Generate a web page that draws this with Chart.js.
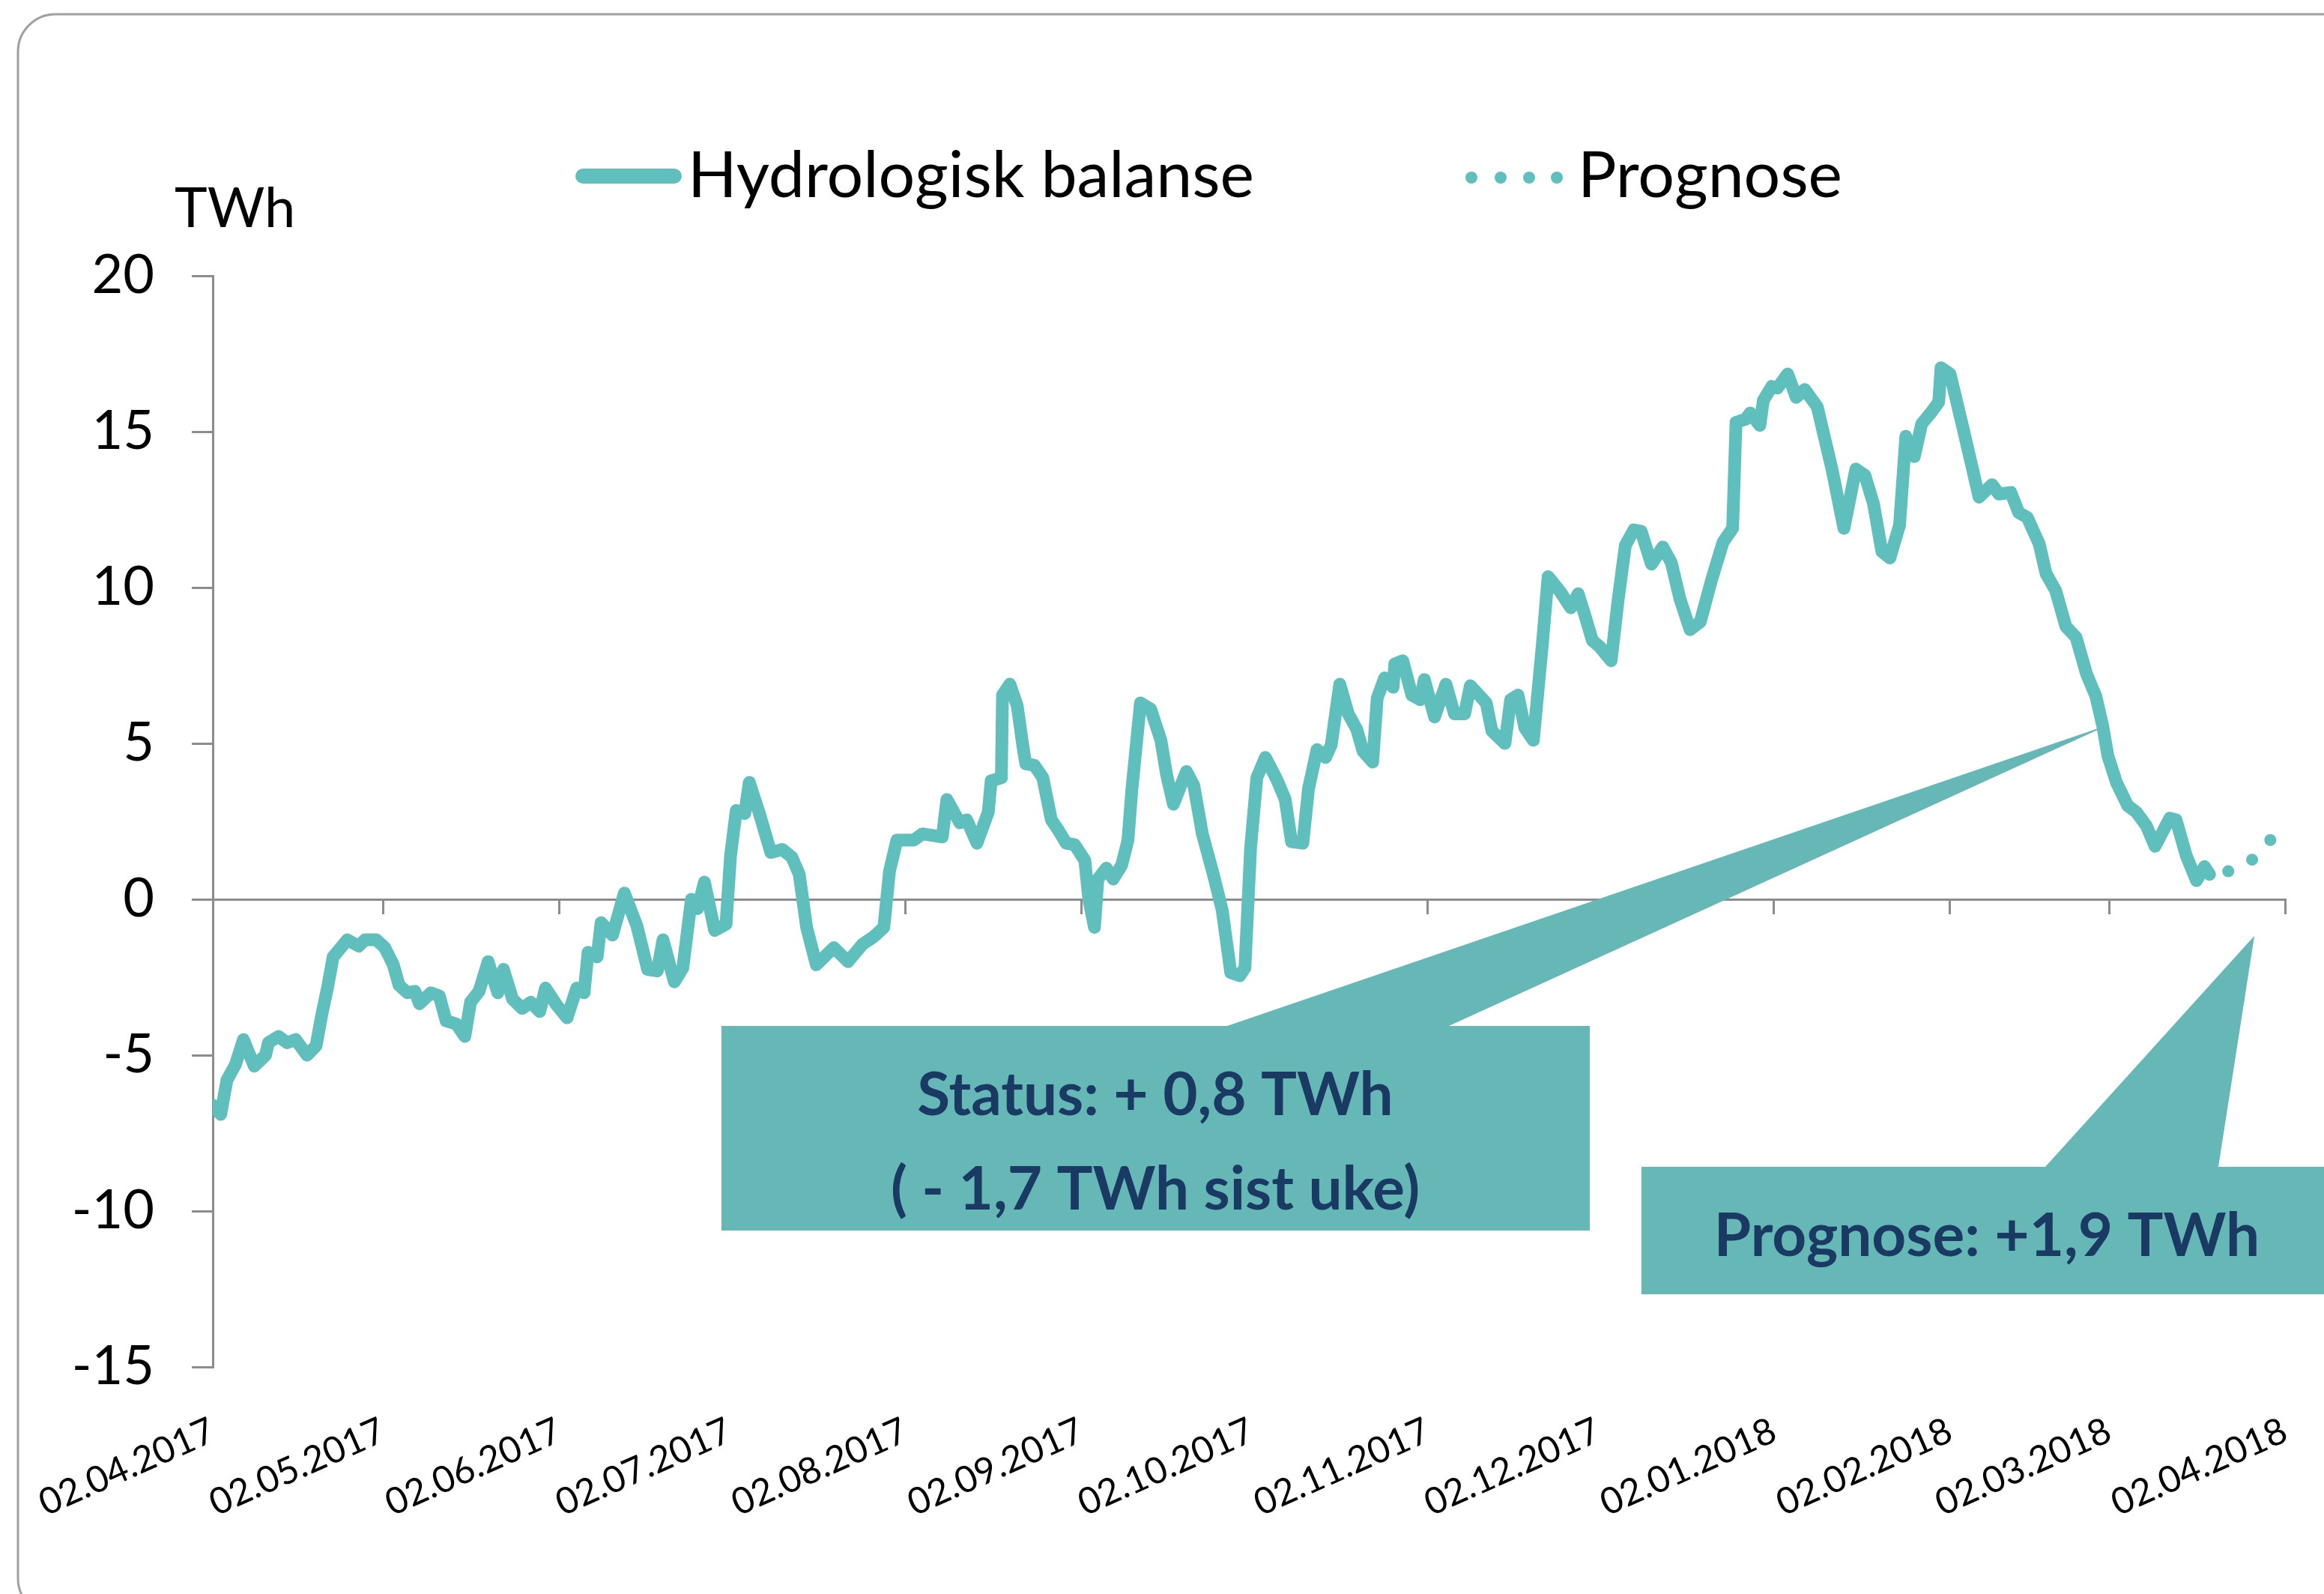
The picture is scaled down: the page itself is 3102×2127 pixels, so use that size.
<!DOCTYPE html>
<html>
<head>
<meta charset="utf-8">
<title>Hydrologisk balanse</title>
<script src="https://cdn.jsdelivr.net/npm/chart.js@4.4.1/dist/chart.umd.min.js"></script>
<style>
  html, body { margin: 0; padding: 0; background: #fff; }
  canvas { display: block; }
</style>
</head>
<body>
<canvas id="chart" width="3102" height="2127"></canvas>
<script>
// Days after 02.04.2017 and balance in TWh
const balanceDays = [
  0, 1.4, 2.5, 4.0, 5.4, 7.3, 9.3, 9.8, 11.6, 13.1, 14.6, 16.6, 18.2, 19.2, 20.2, 21.2,
  23.7, 25.7, 26.8, 28.8, 30.3, 31.8, 32.8, 34.3, 35.6, 36.4, 38.4, 39.9, 41.1, 42.9,
  44.4, 45.4, 46.9, 48.5, 50.2, 51.2, 52.8, 54.5, 56.0, 57.6, 58.6, 60.6, 62.4, 64.1,
  65.4, 66.1, 67.7, 68.4, 70.4, 72.5, 74.7, 76.6, 78.3, 79.3, 81.3, 82.8, 84.3, 85.4,
  86.6, 88.4, 90.4, 91.2, 92.2, 93.7, 94.5, 96.2, 98.3, 100.3, 102.0, 103.3, 104.6,
  106.3, 109.4, 111.9, 114.4, 116.4, 118.2, 119.2, 120.5, 123.5, 125.0, 128.5, 129.3,
  131.6, 132.8, 134.6, 136.6, 137.1, 138.9, 139.1, 140.4, 141.7, 142.7, 143.2, 144.7,
  146.2, 147.7, 149.0, 150.3, 151.8, 153.6, 154.3, 155.3, 155.9, 157.4, 158.6, 160.1,
  161.2, 161.9, 163.4, 165.2, 167.0, 168.0, 169.2, 171.5, 172.8, 174.3, 176.3, 177.8,
  179.3, 180.9, 181.8, 182.8, 183.9, 185.4, 187.4, 188.9, 190.0, 192.0, 193.0, 194.5,
  196.0, 197.0, 198.5, 200.0, 201.5, 202.6, 204.3, 205.1, 206.4, 207.9, 208.2, 209.6,
  211.2, 212.7, 213.4, 215.2, 217.2, 218.7, 220.5, 221.5, 224.3, 225.3, 227.6, 228.6,
  229.9, 231.1, 232.6, 234.2, 235.2, 237.4, 239.2, 240.5, 241.7, 243.0, 244.3, 246.3,
  247.5, 248.8, 250.3, 251.6, 253.4, 255.4, 256.9, 258.4, 260.2, 262.0, 264.0, 266.0,
  267.7, 268.3, 270.0, 270.8, 272.5, 273.1, 274.6, 275.6, 277.4, 278.9, 280.4, 282.6,
  285.2, 287.3, 289.4, 291.0, 292.5, 294.0, 295.4, 297.1, 298.2, 299.7, 301.0, 302.6,
  304.0, 304.4, 306.0, 308.1, 309.9, 311.1, 313.4, 314.6, 316.7, 318.1, 319.6, 321.7,
  322.9, 324.6, 326.4, 328.2, 330.0, 331.7, 332.9, 333.8, 335.3, 337.3, 338.8, 340.6,
  342.1, 344.7, 345.8, 347.6, 349.4, 350.8, 351.7
];
const balanceValues = [
  -6.6, -6.9, -5.8, -5.3, -4.5, -5.35, -5.0, -4.6, -4.4, -4.6, -4.5, -5.0, -4.7, -3.7, -2.85, -1.85,
  -1.3, -1.5, -1.3, -1.3, -1.55, -2.1, -2.75, -3.0, -2.95, -3.35, -3.0, -3.1, -3.9, -4.0,
  -4.4, -3.3, -2.95, -2.0, -3.0, -2.25, -3.2, -3.5, -3.3, -3.6, -2.85, -3.4, -3.8, -2.85,
  -3.0, -1.7, -1.85, -0.75, -1.15, 0.2, -0.85, -2.25, -2.3, -1.3, -2.65, -2.2, 0.0, -0.3,
  0.55, -1.0, -0.8, 1.4, 2.85, 2.75, 3.75, 2.8, 1.5, 1.6, 1.35, 0.8, -0.9,
  -2.1, -1.55, -2.0, -1.45, -1.2, -0.9, 0.9, 1.9, 1.9, 2.1, 2.0, 3.2,
  2.45, 2.55, 1.8, 2.8, 3.8, 3.9, 6.55, 6.9, 6.2, 4.9, 4.35, 4.3,
  3.9, 2.55, 2.2, 1.8, 1.75, 1.25, 0.0, -0.9, 0.65, 1.0, 0.65, 1.1,
  1.9, 3.55, 6.3, 6.1, 5.1, 4.0, 3.05, 4.1, 3.65, 2.1, 0.75, -0.35,
  -2.35, -2.45, -2.2, 1.65, 3.9, 4.55, 3.85, 3.2, 1.85, 1.8, 3.55, 4.8,
  4.55, 4.95, 6.9, 5.95, 5.45, 4.75, 4.4, 6.45, 7.1, 6.8, 7.55, 7.65,
  6.55, 6.4, 7.05, 5.85, 6.9, 5.95, 5.95, 6.85, 6.3, 5.4, 5.0, 6.4,
  6.55, 5.5, 5.1, 8.2, 10.35, 9.85, 9.35, 9.8, 9.1, 8.3, 8.1, 7.65,
  9.55, 11.35, 11.85, 11.8, 10.75, 11.3, 10.8, 9.65, 8.65, 8.9, 10.25, 11.45,
  11.9, 15.3, 15.4, 15.6, 15.2, 16.0, 16.45, 16.4, 16.85, 16.1, 16.35, 15.8,
  13.8, 11.9, 13.8, 13.6, 12.7, 11.15, 10.95, 12.0, 14.85, 14.2, 15.25, 15.6,
  15.95, 17.05, 16.85, 15.25, 13.85, 12.9, 13.3, 13.0, 13.05, 12.4, 12.25, 11.4,
  10.45, 9.9, 8.75, 8.4, 7.25, 6.5, 5.55, 4.6, 3.75, 3.0, 2.8, 2.35,
  1.7, 2.6, 2.55, 1.4, 0.6, 1.05, 0.8
];
const forecastDays = [355, 359.2, 362.4];
const forecastValues = [0.9, 1.27, 1.9];

const monthDays = [0, 30, 61, 91, 122, 153, 183, 214, 244, 275, 306, 334, 365];
const monthLabels = [
  '02.04.2017', '02.05.2017', '02.06.2017', '02.07.2017', '02.08.2017', '02.09.2017',
  '02.10.2017', '02.11.2017', '02.12.2017', '02.01.2018', '02.02.2018', '02.03.2018', '02.04.2018'
];
const seriesNames = ['Hydrologisk balanse', 'Prognose'];
const unitLabel = 'TWh';
const statusLines = ['Status: + 0,8 TWh', '( - 1,7 TWh sist uke)'];
const forecastLine = 'Prognose: +1,9 TWh';

const LINE = '#5fbfbc';
const BOX = '#66b8b7';
const NAVY = '#1b3a63';
const AXIS = '#8c8c8c';

Chart.defaults.font.family = 'Lato';
Chart.defaults.color = '#000';

// Month ticks for both x axes
function monthTicks(scale) {
  scale.ticks = monthDays.map(d => ({ value: d }));
}

// Keep the rotated labels from pulling the plot area in
function fixedXFit(height) {
  return s => {
    s.height = height;
    s.paddingLeft = 0;
    s.paddingRight = 0;
  };
}

// Frame, unit label and custom legend
const decorPlugin = {
  id: 'decor',
  beforeDraw(chart) {
    const ctx = chart.ctx;
    ctx.save();
    ctx.fillStyle = '#fff';
    ctx.fillRect(0, 0, chart.width, chart.height);
    ctx.strokeStyle = '#a0a0a0';
    ctx.lineWidth = 3;
    ctx.beginPath();
    ctx.roundRect(24, 19, chart.width + 60, chart.height + 10, 50);
    ctx.stroke();
    ctx.restore();
  },
  afterDraw(chart) {
    const ctx = chart.ctx;
    const area = chart.chartArea;
    ctx.save();
    ctx.fillStyle = '#000';
    ctx.textBaseline = 'alphabetic';
    ctx.font = '74px Lato';
    ctx.fillText(unitLabel, area.left - 51, 303);

    // legend: solid line sample
    const solid = chart.data.datasets[0];
    ctx.strokeStyle = solid.borderColor;
    ctx.lineWidth = 20;
    ctx.lineCap = 'round';
    ctx.beginPath();
    ctx.moveTo(778, 235);
    ctx.lineTo(900, 235);
    ctx.stroke();
    ctx.font = '86px Lato';
    ctx.fillText(seriesNames[0], 918, 263);

    // legend: dotted sample
    ctx.fillStyle = chart.data.datasets[1].pointBackgroundColor;
    [1964, 2003, 2041, 2078].forEach(cx => {
      ctx.beginPath();
      ctx.arc(cx, 237, 8, 0, Math.PI * 2);
      ctx.fill();
    });
    ctx.fillStyle = '#000';
    ctx.fillText(seriesNames[1], 2106, 263);
    ctx.restore();
  }
};

// The two text boxes with their pointers
const calloutPlugin = {
  id: 'callouts',
  afterDatasetsDraw(chart) {
    const { ctx, scales: { x, y } } = chart;
    ctx.save();
    ctx.fillStyle = BOX;

    ctx.beginPath();
    ctx.moveTo(1638, 1369);
    ctx.lineTo(x.getPixelForValue(334), y.getPixelForValue(5.6));
    ctx.lineTo(1934, 1369);
    ctx.closePath();
    ctx.fill();
    ctx.fillRect(963, 1369, 1159, 273);

    ctx.beginPath();
    ctx.moveTo(2730, 1557);
    ctx.lineTo(x.getPixelForValue(359.6), y.getPixelForValue(-1.17));
    ctx.lineTo(2961, 1557);
    ctx.closePath();
    ctx.fill();
    ctx.fillRect(2191, 1557, 1000, 170);

    ctx.fillStyle = NAVY;
    ctx.font = 'bold 80px Lato';
    ctx.textAlign = 'center';
    ctx.textBaseline = 'middle';
    ctx.fillText(statusLines[0], 1542, 1462);
    ctx.fillText(statusLines[1], 1542, 1588);
    ctx.fillText(forecastLine, 2652, 1650);
    ctx.restore();
  }
};

const ctx = document.getElementById('chart').getContext('2d');
new Chart(ctx, {
  type: 'line',
  data: {
    datasets: [{
      label: seriesNames[0],
      data: balanceDays.map((d, i) => ({ x: d, y: balanceValues[i] })),
      borderColor: LINE,
      borderWidth: 17,
      borderJoinStyle: 'round',
      borderCapStyle: 'round',
      pointRadius: 0,
      tension: 0
    }, {
      label: seriesNames[1],
      data: forecastDays.map((d, i) => ({ x: d, y: forecastValues[i] })),
      showLine: false,
      pointRadius: 8,
      pointBorderWidth: 0,
      pointBackgroundColor: LINE,
      borderColor: LINE
    }]
  },
  options: {
    responsive: false,
    animation: false,
    devicePixelRatio: 1,
    layout: {
      padding: { top: 368, right: 52, bottom: 0, left: 0 }
    },
    plugins: {
      legend: { display: false },
      tooltip: { enabled: false }
    },
    scales: {
      x: {
        type: 'linear',
        position: 'bottom',
        min: 0,
        max: 365,
        afterBuildTicks: monthTicks,
        afterFit: fixedXFit(303),
        grid: { display: false },
        border: { display: false },
        ticks: {
          autoSkip: false,
          minRotation: 24,
          maxRotation: 24,
          padding: 48,
          font: { size: 49 },
          callback: v => monthLabels[monthDays.indexOf(v)]
        }
      },
      x2: {
        type: 'linear',
        position: { y: 0 },
        min: 0,
        max: 365,
        afterBuildTicks: monthTicks,
        afterFit: fixedXFit(20),
        grid: {
          drawOnChartArea: false,
          drawTicks: true,
          tickLength: 18,
          color: AXIS,
          lineWidth: 3
        },
        border: { color: AXIS, width: 3 },
        ticks: { display: false }
      },
      y: {
        min: -15,
        max: 20,
        afterFit: s => { s.width = 284; },
        grid: {
          drawOnChartArea: false,
          tickLength: 28,
          color: AXIS,
          lineWidth: 3
        },
        border: { color: AXIS, width: 3 },
        ticks: {
          stepSize: 5,
          padding: 50,
          font: { size: 72 }
        }
      }
    }
  },
  plugins: [decorPlugin, calloutPlugin]
});
</script>
</body>
</html>
